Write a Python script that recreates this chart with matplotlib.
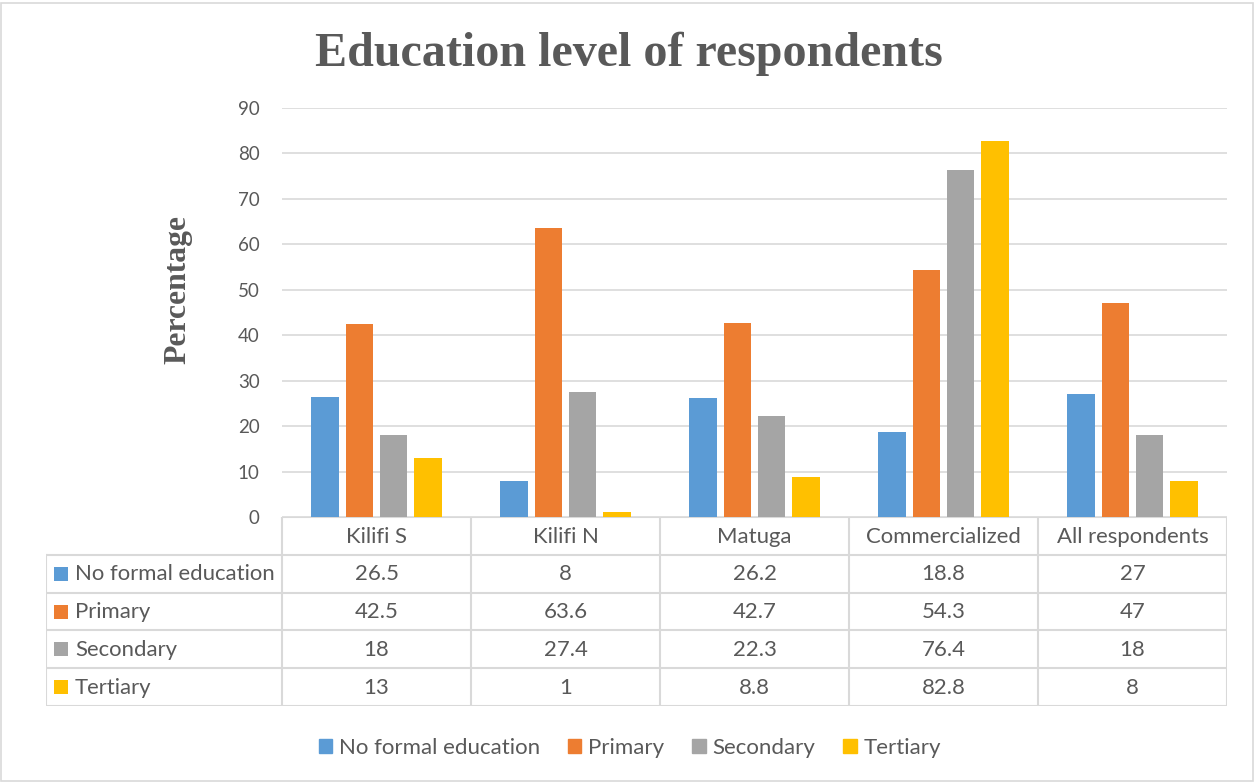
import matplotlib
matplotlib.use("Agg")
import matplotlib.pyplot as plt
from matplotlib.patches import Patch, Rectangle
from matplotlib.lines import Line2D

# ---- data -------------------------------------------------------------
categories = ["Kilifi S", "Kilifi N", "Matuga", "Commercialized", "All respondents"]
series_names = ["No formal education", "Primary", "Secondary", "Tertiary"]
no_formal = [26.5, 8, 26.2, 18.8, 27]
primary = [42.5, 63.6, 42.7, 54.3, 47]
secondary = [18, 27.4, 22.3, 76.4, 18]
tertiary = [13, 1, 8.8, 82.8, 8]
y_ticks = [0, 10, 20, 30, 40, 50, 60, 70, 80, 90]

series_values = [no_formal, primary, secondary, tertiary]
colors = ["#5B9BD5", "#ED7D31", "#A5A5A5", "#FFC000"]
TEXT = "#595959"
GRID = "#D9D9D9"

W, H = 1255, 782
fig = plt.figure(figsize=(W / 100, H / 100), dpi=100)
fig.patch.set_facecolor("white")

def px_box(x0, y0, x1, y1):
    return [x0 / W, 1 - y1 / H, (x1 - x0) / W, (y1 - y0) / H]

# chart border
fig.add_artist(Rectangle((1 / W, 1 / H), (W - 3) / W, (H - 4) / H,
                         transform=fig.transFigure, fill=False,
                         edgecolor=GRID, lw=1.2))

# ---- bar plot ---------------------------------------------------------
PL, PR, PT, PB = 282, 1227, 108, 517
ax = fig.add_axes(px_box(PL, PT, PR, PB))
n = len(categories)
step = 34.3 / 189
width = 27.5 / 189
for k, (vals, c) in enumerate(zip(series_values, colors)):
    xs = [i + (k - 1.5) * step for i in range(n)]
    ax.bar(xs, vals, width=width, color=c, zorder=3)
ax.set_xlim(-0.5, n - 0.5)
ax.set_ylim(0, 90)
ax.set_yticks(y_ticks)
ax.set_xticks([])
ax.tick_params(axis="y", length=0, pad=16, labelsize=13.5, labelcolor=TEXT)
for lbl in ax.get_yticklabels():
    lbl.set_fontfamily("Lato")
ax.grid(axis="y", color=GRID, lw=1.2, zorder=0)
for s in ax.spines.values():
    s.set_visible(False)

# ---- data table -------------------------------------------------------
TL, TB = 46, 706
left_w = (PL - TL) / 189
tax = fig.add_axes(px_box(TL, PB, PR, TB))
tax.set_xlim(-0.5 - left_w, n - 0.5)
tax.set_ylim(5, 0)
tax.axis("off")
lk = dict(color=GRID, lw=1.5, solid_capstyle="projecting")
# horizontal lines
tax.add_line(Line2D([-0.5, n - 0.5], [0, 0], **lk))
for r in range(1, 6):
    tax.add_line(Line2D([-0.5 - left_w, n - 0.5], [r, r], **lk))
# vertical lines
tax.add_line(Line2D([-0.5 - left_w] * 2, [1, 5], **lk))
for c in range(n + 1):
    tax.add_line(Line2D([c - 0.5] * 2, [0, 5], **lk))

FS_T = 15.9
for i, cat in enumerate(categories):
    tax.text(i, 0.52, cat, ha="center", va="center", fontsize=FS_T,
             color=TEXT, family="Lato")
sq_w, sq_h = 14 / 189, 14 / 37.8
for r, (name, vals, c) in enumerate(zip(series_names, series_values, colors), start=1):
    x0 = -0.5 - left_w + 8 / 189
    tax.add_patch(Rectangle((x0, r + 0.5 - sq_h / 2), sq_w, sq_h, color=c, lw=0))
    tax.text(x0 + sq_w + 7 / 189, r + 0.52, name, ha="left", va="center",
             fontsize=FS_T, color=TEXT, family="Lato")
    for i, v in enumerate(vals):
        tax.text(i, r + 0.52, f"{v:g}", ha="center", va="center",
                 fontsize=FS_T, color=TEXT, family="Lato")

# ---- titles -----------------------------------------------------------
fig.text(629 / W, 1 - 66 / H, "Education level of respondents", ha="center",
         va="baseline", fontsize=34.6, fontweight="bold", color=TEXT,
         family="Liberation Serif")
fig.text(178 / W, 1 - 289 / H, "Percentage", ha="center", va="center",
         rotation=90, fontsize=22.8, fontweight="bold", color=TEXT,
         family="Liberation Serif")

# ---- legend -----------------------------------------------------------
handles = [Patch(color=c, label=nm) for c, nm in zip(colors, series_names)]
leg = fig.legend(handles=handles, loc="center", bbox_to_anchor=(630 / W, 1 - 748 / H),
                 ncol=4, frameon=False, handlelength=0.6, handleheight=0.6,
                 handletextpad=0.32, columnspacing=1.25,
                 prop={"family": "Lato", "size": 16})
for t in leg.get_texts():
    t.set_color(TEXT)

fig.savefig("out.png", dpi=100)
